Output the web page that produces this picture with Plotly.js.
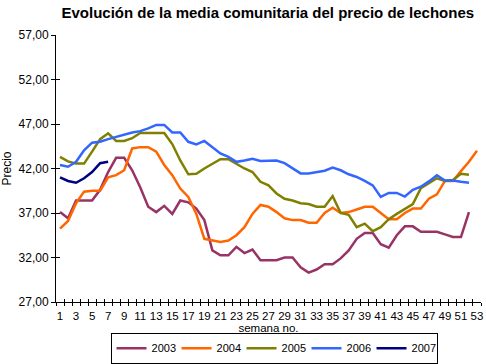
<!DOCTYPE html>
<html>
<head>
<meta charset="utf-8">
<script src="https://cdn.plot.ly/plotly-3.0.1.min.js"></script>
<style>html,body{margin:0;padding:0;background:#fff;}#chart{width:486px;height:364px;}</style>
</head>
<body>
<div id="chart"></div>
<script>
// Week numbers (categories)
var weeks = [1,2,3,4,5,6,7,8,9,10,11,12,13,14,15,16,17,18,19,20,21,22,23,24,25,26,27,28,29,30,31,32,33,34,35,36,37,38,39,40,41,42,43,44,45,46,47,48,49,50,51,52,53];
var weekLabels = ["1","3","5","7","9","11","13","15","17","19","21","23","25","27","29","31","33","35","37","39","41","43","45","47","49","51","53"];
var weekLabelVals = [1,3,5,7,9,11,13,15,17,19,21,23,25,27,29,31,33,35,37,39,41,43,45,47,49,51,53];
var yTicks = [27,32,37,42,47,52,57];

var s2003 = [37.1,36.4,38.4,38.4,38.4,39.6,41.6,43.2,43.2,41.8,39.9,37.7,37.1,37.8,36.9,38.4,38.2,37.5,36.2,32.8,32.25,32.25,33.2,32.5,32.9,31.7,31.7,31.7,32.0,32.0,30.9,30.3,30.65,31.25,31.25,31.9,32.8,34.1,34.75,34.75,33.5,33.1,34.5,35.5,35.5,34.9,34.9,34.9,34.6,34.3,34.3,37.1];
var s2004 = [35.25,36.1,38.1,39.4,39.5,39.5,41.0,41.25,41.8,44.25,44.4,44.4,43.9,42.4,41.25,39.75,38.8,36.9,34.1,33.9,33.75,33.9,34.5,35.4,36.9,37.9,37.7,37.1,36.4,36.2,36.2,35.9,35.9,37.0,37.6,37.0,37.1,37.4,37.7,37.7,37.0,36.3,36.3,37.0,37.5,37.5,38.6,39.1,40.6,40.6,41.7,42.75,44.0];
var s2005 = [43.3,42.8,42.55,42.55,43.9,45.3,45.95,45.1,45.1,45.4,46.0,46.0,46.0,46.0,44.75,42.9,41.35,41.4,42.0,42.55,43.05,43.05,42.55,42.0,41.6,40.5,40.1,39.2,38.6,38.4,38.1,38.0,37.7,37.7,38.9,37.0,36.8,35.4,35.8,34.95,35.4,36.3,36.9,37.5,38.0,39.8,40.4,40.9,40.6,40.7,41.4,41.3];
var s2006 = [42.4,42.2,42.75,44.05,44.9,45.0,45.3,45.55,45.75,46.05,46.2,46.5,46.9,46.9,46.05,46.05,45.0,44.7,45.1,44.4,43.7,43.3,42.75,42.9,43.1,42.85,42.85,42.9,42.6,42.0,41.45,41.45,41.6,41.75,42.1,41.8,41.35,41.05,40.6,40.1,38.8,39.25,39.25,38.85,39.6,39.95,40.55,41.25,40.65,40.65,40.5,40.4];
var s2007 = [41.0,40.6,40.4,40.9,41.6,42.6,42.75];

var names = ["2003","2004","2005","2006","2007"];
var series = [s2003,s2004,s2005,s2006,s2007];
var colors = ["#993366","#FF6600","#808000","#3366FF","#000080"];

var traces = series.map(function(s,i){
  return {type:'scatter', mode:'lines', name:names[i], x:weeks.slice(0,s.length), y:s,
    line:{color:colors[i], width:2.5}, hoverinfo:'skip'};
});

// boundary tick positions for category axis
var bounds = [];
for (var b = 0; b < weeks.length + 1; b++) bounds.push(weeks[0] - 0.5 + b);

traces.push({type:'scatter', mode:'lines', x:[], y:[], xaxis:'x2', yaxis:'y', showlegend:false, hoverinfo:'skip'});
traces.push({type:'scatter', mode:'lines', x:[], y:[], xaxis:'x3', yaxis:'y', showlegend:false, hoverinfo:'skip'});
traces.push({type:'scatter', mode:'lines', x:[], y:[], xaxis:'x', yaxis:'y2', showlegend:false, hoverinfo:'skip'});

var fam = 'Liberation Sans, Arial, sans-serif';
var layout = {
  width:486, height:364,
  margin:{l:55.5, r:4.5, t:35, b:62.3, pad:0, autoexpand:false},
  paper_bgcolor:'#fff', plot_bgcolor:'#fff',
  separators:',.',
  font:{family:fam, size:12, color:'#000'},
  showlegend:true,
  title:{text:'Evolución de la media comunitaria del precio de lechones', font:{family:fam, size:15, color:'#000', weight:'bold'}, x:0.551, xref:'container', xanchor:'center', y:0.964, yanchor:'middle', automargin:false},
  xaxis:{range:[0.5,53.5], tickmode:'array', tickvals:weekLabelVals, ticktext:weekLabels, ticks:'outside', ticklen:3, tickcolor:'rgba(0,0,0,0)', showline:true, linecolor:'#000', linewidth:1, showgrid:false, zeroline:false, tickfont:{size:11.5}, automargin:false,
    title:{text:'semana no.', font:{size:11.5}, standoff:0}},
  xaxis2:{overlaying:'x', anchor:'y', range:[0.5,53.5], tickmode:'array', tickvals:bounds, ticks:'outside', ticklen:3, tickcolor:'#000', showticklabels:false, showline:false, showgrid:false, zeroline:false, automargin:false},
  xaxis3:{overlaying:'x', anchor:'y', range:[0.5,53.5], tickmode:'array', tickvals:bounds, ticks:'inside', ticklen:3, tickcolor:'#000', showticklabels:false, showline:false, showgrid:false, zeroline:false, automargin:false},
  yaxis:{range:[27,57], tickmode:'array', tickvals:yTicks, tickformat:'.2f', ticks:'outside', ticklen:4, tickcolor:'#000', showline:true, linecolor:'#000', linewidth:1, showgrid:false, zeroline:false, tickfont:{size:12}, automargin:false,
    title:{text:'Precio', font:{size:12}, standoff:8}},
  yaxis2:{overlaying:'y', anchor:'x', side:'left', range:[27,57], tickmode:'array', tickvals:yTicks, ticks:'inside', ticklen:4, tickcolor:'#000', showticklabels:false, showline:false, showgrid:false, zeroline:false, automargin:false},
  legend:{orientation:'h', x:0.513, xanchor:'center', y:-0.231, yanchor:'bottom', bordercolor:'#000', borderwidth:1, bgcolor:'rgba(0,0,0,0)', font:{size:11}, itemwidth:30, entrywidth:20, entrywidthmode:'pixels', tracegroupgap:0}
};

Plotly.newPlot('chart', traces, layout, {staticPlot:true, displayModeBar:false});
</script>
</body>
</html>
